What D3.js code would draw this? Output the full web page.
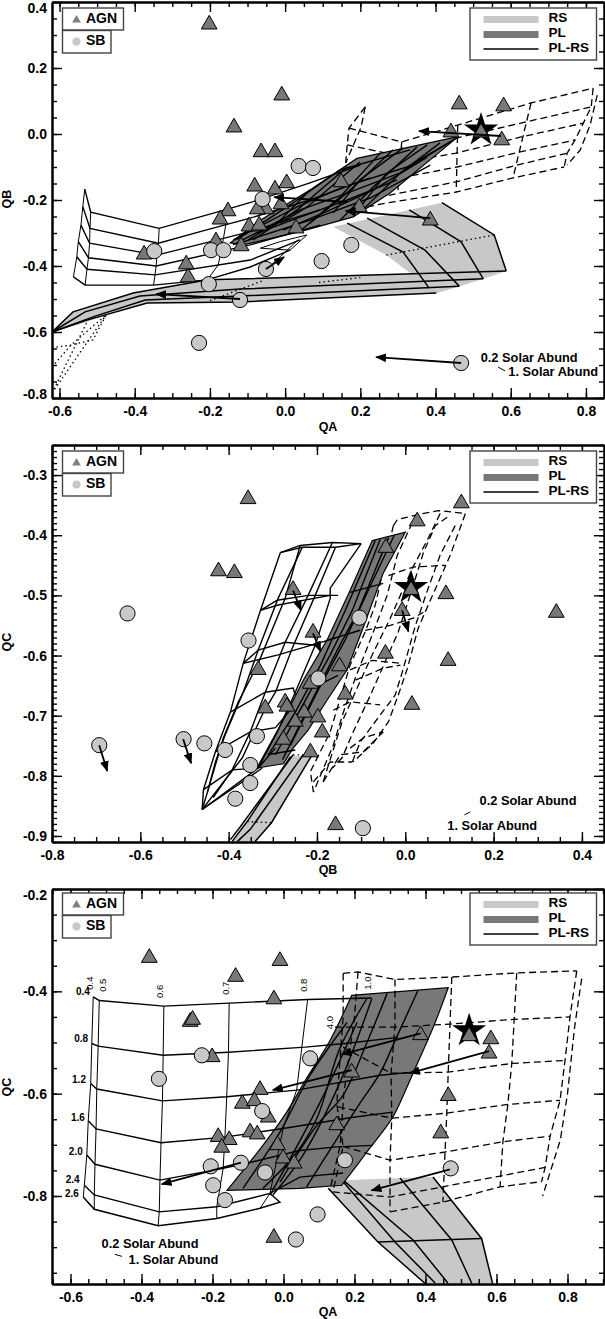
<!DOCTYPE html>
<html><head><meta charset="utf-8">
<script src="https://cdn.jsdelivr.net/npm/d3@7"></script>
<style>html,body{margin:0;padding:0;background:#fff}svg{display:block}text{font-family:"Liberation Sans",Arial,sans-serif;font-weight:bold;fill:#000}</style>
</head><body><div id="c"></div>
<script>
// ---------- panel 1 : QA / QB ----------
const p1Tri=[[-.202,.339],[-.009,.124],[-.136,.027],[-.064,-.048],[-.027,-.048],[.149,-.139],[.463,.097],[.581,.091],[.441,.012],[.576,-.012],[.521,.012],[-.081,-.152],[-.027,-.161],[.004,-.142],[-.152,-.227],[-.173,-.252],[-.011,-.206],[-.051,-.221],[-.074,-.221],[-.096,-.273],[-.069,-.27],[.029,-.279],[.197,-.215],[.386,-.255],[-.184,-.318],[-.117,-.333],[-.375,-.358],[-.263,-.388],[-.258,-.427]];
const p1Cir=[[.036,-.097],[.074,-.103],[-.06,-.197],[-.348,-.355],[-.197,-.352],[-.164,-.352],[-.051,-.409],[-.203,-.455],[-.12,-.503],[.176,-.336],[.097,-.385],[-.229,-.633],[.468,-.694]];
const p1Arrows=[[[.574,-.006],[.356,.009]],[[-.12,-.5],[-.343,-.485]],[[.468,-.694],[.242,-.676]],[[.386,-.255],[.161,-.233]],[[.165,-.206],[-.029,-.191]],[[-.051,-.409],[-.003,-.373]]];
const p1Star=[.521,.012];
const p1RS=[[[.128,-.281],[.417,-.208],[.556,-.306],[.588,-.415],[.527,-.439],[.463,-.461],[.402,-.482],[.269,-.367]],
 [[.588,-.415],[-.205,-.442],[-.404,-.482],[-.564,-.539],[-.62,-.6],[-.527,-.57],[-.476,-.548],[-.367,-.512],[-.122,-.509],[.402,-.482],[.463,-.461]]];
const p1RSLines=[[[.165,-.27],[.314,-.358],[.383,-.467]],[[.218,-.255],[.372,-.352],[.463,-.461]],[[.33,-.23],[.468,-.327],[.527,-.439]],[[.417,-.208],[.556,-.306],[.588,-.415]],
 [[.588,-.415],[-.205,-.442],[-.404,-.482],[-.564,-.539],[-.62,-.6]],[[.527,-.439],[-.12,-.47],[-.386,-.491],[-.532,-.539],[-.62,-.6]],[[.463,-.461],[-.12,-.491],[-.372,-.503],[-.505,-.552],[-.62,-.6]],[[.402,-.482],[-.122,-.509],[-.367,-.512],[-.527,-.564],[-.62,-.6]]];
const p1PL=[[.46,-.008],[.191,-.074],[.066,-.17],[-.066,-.261],[-.146,-.33],[-.112,-.336],[.04,-.296],[.181,-.251],[.279,-.179]];
const p1PLLines=[[[-.138,-.336],[.04,-.23],[.165,-.179],[.306,-.118],[.447,-.018]],[[-.12,-.33],[.066,-.261],[.226,-.194],[.386,-.094]],[[-.13,-.321],[.013,-.215],[.146,-.109],[.332,-.048]],[[.253,-.058],[.146,-.191],[.04,-.294]],[[.314,-.042],[.199,-.139],[.128,-.239]],[[.378,-.033],[.271,-.118],[.181,-.248]],[[.165,-.1],[.032,-.23],[-.085,-.321]],[[.066,-.17],[-.013,-.261],[-.098,-.321]],
 [[-.138,-.321],[.032,-.221],[.154,-.161],[.324,-.1],[.457,-.012]],[[-.074,-.3],[.04,-.252],[.165,-.2],[.298,-.139]],[[-.005,-.291],[.12,-.23],[.234,-.17],[.378,-.07]],[[.199,-.085],[.059,-.221],[-.013,-.27]],[[.287,-.048],[.173,-.17],[.066,-.27]],[[.351,-.039],[.234,-.161],[.146,-.261]],[[.412,-.027],[.306,-.118],[.199,-.239]]];
const p1Rows=[[[-.533,-.167],[-.517,-.237],[-.335,-.286],[-.16,-.23],[-.085,-.205],[.066,-.148],[.2,-.094]],
 [[-.538,-.22],[-.519,-.286],[-.337,-.331],[-.226,-.296],[-.093,-.255],[.066,-.2],[.226,-.133]],
 [[-.543,-.276],[-.52,-.331],[-.341,-.367],[-.093,-.296],[.093,-.23]],
 [[-.55,-.326],[-.523,-.375],[-.343,-.4],[-.093,-.336],[.093,-.276]],
 [[-.554,-.372],[-.527,-.41],[-.346,-.427],[-.093,-.382],[.04,-.321]],
 [[-.563,-.433],[-.532,-.458],[-.35,-.458],[-.208,-.442],[-.093,-.403],[.013,-.352]]];
const p1Cols=[[[-.533,-.167],[-.538,-.22],[-.543,-.276],[-.55,-.326],[-.554,-.372],[-.563,-.433]],[[-.517,-.237],[-.519,-.286],[-.52,-.331],[-.523,-.375],[-.527,-.41],[-.532,-.458]],[[-.335,-.286],[-.337,-.331],[-.341,-.367],[-.343,-.4],[-.346,-.427],[-.35,-.458]],[[-.158,-.276],[-.167,-.336],[-.178,-.397],[-.207,-.442]],
 [[-.066,-.346],[-.013,-.326],[.058,-.306],[.013,-.352],[-.066,-.346]],[[-.05,-.41],[-.013,-.372],[.035,-.32]]];
const p1Dash=[[[.17,.018],[.31,-.024],[.459,.027],[.654,.094],[.819,.139]],[[.165,-.033],[.269,-.058],[.457,-.012],[.638,.036],[.814,.082]],[[.269,-.094],[.455,-.058],[.628,-.009],[.793,.033]],[[.279,-.139],[.457,-.1],[.622,-.055],[.771,-.018]],[[.218,-.2],[.279,-.185],[.455,-.145],[.617,-.094],[.75,-.058]],[[.218,-.221],[.269,-.209],[.455,-.176],[.606,-.133],[.742,-.1]],
 [[.213,.082],[.202,.021],[.161,-.088]],[[.213,.082],[.17,.018],[.165,-.033],[.161,-.088]],[[.31,-.024],[.3,-.17]],[[.459,.027],[.455,-.176]],[[.654,.094],[.606,-.133]],[[.819,.139],[.814,.082],[.793,.033],[.771,-.018],[.75,-.058],[.742,-.1]],[[.83,.118],[.811,.027],[.785,-.048],[.75,-.094]]];
const p1Dot=[[[.269,-.367],[.556,-.306]],[[-.62,-.785],[-.476,-.548]],[[-.62,-.706],[-.569,-.639],[-.476,-.548]],[[-.62,-.648],[-.569,-.639],[-.511,-.624],[-.476,-.548]],[[-.62,-.785],[-.527,-.57]],[[-.2,-.505],[-.06,-.445]],[[.09,-.45],[.2,-.435]]];
const p1Note=[[.649,-.682,"0.2 Solar Abund"],[.713,-.724,"1. Solar Abund"]];
const p1NoteMark=[[.566,-.706],[.585,-.718]];
const p1XTicks=[-.6,-.4,-.2,0,.2,.4,.6,.8], p1YTicks=[-.8,-.6,-.4,-.2,0,.2,.4];

// ---------- panel 2 : QB / QC ----------
const p2Tri=[[-.356,-.336],[.127,-.343],[.027,-.373],[-.423,-.456],[-.387,-.459],[-.044,-.417],[-.254,-.487],[.013,-.487],[.092,-.494],[-.007,-.522],[-.209,-.558],[-.045,-.593],[.097,-.605],[-.333,-.62],[-.149,-.614],[-.215,-.643],[-.136,-.661],[.015,-.678],[-.317,-.684],[-.272,-.674],[-.268,-.681],[-.229,-.691],[-.198,-.699],[-.249,-.706],[-.188,-.724],[-.276,-.736],[-.215,-.757],[-.158,-.878],[.342,-.525]];
const p2Cir=[[-.355,-.575],[-.104,-.537],[-.197,-.638],[-.502,-.739],[-.455,-.746],[-.408,-.757],[-.336,-.734],[-.351,-.782],[-.351,-.812],[-.385,-.838],[-.096,-.887],[-.629,-.53],[-.693,-.749]];
const p2Arrows=[[[-.693,-.749],[-.675,-.792]],[[-.503,-.739],[-.485,-.779]],[[-.254,-.492],[-.236,-.525]],[[-.209,-.563],[-.192,-.593]],[[-.007,-.525],[.007,-.56]]];
const p2Star=[.013,-.487];
const p2RS=[[[-.26,-.768],[-.211,-.765],[-.303,-.878],[-.34,-.909],[-.392,-.909],[-.358,-.876]]];
const p2RSLines=[[[-.254,-.765],[-.374,-.885],[-.396,-.906]],[[-.231,-.765],[-.351,-.889],[-.38,-.909]],[[-.211,-.765],[-.303,-.878],[-.34,-.909]],[[-.26,-.768],[-.358,-.876],[-.392,-.909]]];
const p2PL=[[-.075,-.409],[0,-.395],[-.05,-.463],[-.095,-.553],[-.132,-.624],[-.177,-.674],[-.22,-.724],[-.254,-.754],[-.276,-.78],[-.336,-.787],[-.276,-.707],[-.231,-.641],[-.177,-.574],[-.125,-.492]];
const p2PLLines=[[[-.068,-.409],[-.136,-.525],[-.192,-.616],[-.249,-.694],[-.31,-.765]],[[-.057,-.407],[-.12,-.525],[-.17,-.599],[-.226,-.674],[-.294,-.765]],[[-.038,-.404],[-.106,-.525],[-.154,-.591],[-.211,-.674],[-.278,-.773]],[[-.025,-.4],[-.084,-.492],[-.136,-.574],[-.197,-.657],[-.26,-.749]],[[-.125,-.495],[-.05,-.48]],[[-.174,-.574],[-.102,-.558]],[[-.211,-.654],[-.152,-.633]],[[-.312,-.765],[-.249,-.757]]];
const p2Rows=[[[-.328,-.525],[-.29,-.508],[-.22,-.5],[-.152,-.5]],[[-.328,-.525],[-.288,-.516],[-.17,-.5]],[[-.367,-.613],[-.333,-.591],[-.272,-.578],[-.204,-.583]],[[-.367,-.613],[-.288,-.599],[-.158,-.571]],[[-.396,-.694],[-.317,-.661],[-.254,-.654],[-.249,-.666]],[[-.43,-.76],[-.351,-.727],[-.294,-.72],[-.256,-.687]],[[-.457,-.823],[-.392,-.79],[-.333,-.787],[-.294,-.754]],[[-.46,-.856],[-.355,-.803],[-.324,-.787]]];
const p2Cols=[[[-.283,-.429],[-.328,-.525],[-.367,-.613],[-.396,-.694],[-.43,-.76],[-.457,-.823],[-.46,-.856]],[[-.238,-.417],[-.272,-.505],[-.333,-.613],[-.378,-.677],[-.412,-.737],[-.448,-.827],[-.46,-.856]],[[-.233,-.42],[-.288,-.505],[-.333,-.591],[-.367,-.661],[-.408,-.732],[-.43,-.777],[-.448,-.827]],[[-.165,-.412],[-.22,-.5],[-.272,-.578],[-.317,-.661],[-.351,-.727],[-.392,-.79],[-.435,-.836]],[[-.158,-.42],[-.204,-.5],[-.256,-.588],[-.294,-.661],[-.321,-.694],[-.369,-.77],[-.46,-.856]],[[-.1,-.414],[-.17,-.488],[-.17,-.505],[-.204,-.583],[-.249,-.661],[-.29,-.727],[-.333,-.787],[-.46,-.856]],[[-.283,-.429],[-.238,-.417],[-.165,-.412],[-.1,-.414]],[[-.283,-.429],[-.233,-.42],[-.158,-.42],[-.1,-.414]]];
const p2Dash=[[[.136,-.364],[.102,-.433],[.075,-.478],[.052,-.516],[.029,-.555],[.005,-.621],[-.016,-.666],[-.038,-.71],[-.072,-.745],[-.118,-.777]],[[.113,-.384],[.079,-.433],[.052,-.488],[.023,-.55],[-.007,-.628],[-.023,-.666],[-.057,-.699],[-.102,-.744],[-.12,-.777]],[[.095,-.37],[.068,-.384],[.041,-.429],[.016,-.488],[-.016,-.561],[-.052,-.621],[-.079,-.666],[-.118,-.727],[-.143,-.77],[-.165,-.787]],[[.079,-.364],[.052,-.405],[.016,-.455],[-.034,-.538],[-.075,-.599],[-.109,-.654],[-.143,-.71],[-.186,-.81]],[[.016,-.379],[-.018,-.433],[-.041,-.5],[-.075,-.566],[-.113,-.637],[-.14,-.694],[-.163,-.749],[-.208,-.827]],[[-.027,-.384],[-.068,-.516],[-.091,-.561],[-.125,-.616],[-.17,-.727],[-.215,-.793],[-.208,-.827]],[[-.027,-.384],[-.018,-.374],[.027,-.366],[.075,-.359],[.136,-.364]],
 [[-.038,-.467],[.018,-.453],[.091,-.45]],[[-.091,-.558],[-.034,-.55],[.018,-.538],[.041,-.528]],[[-.125,-.624],[-.075,-.608],[-.011,-.613]],[[-.113,-.641],[-.075,-.629],[-.05,-.621],[-.011,-.616]],[[-.163,-.691],[-.125,-.677],[-.057,-.682]],[[-.125,-.754],[-.095,-.737],[-.05,-.727]],[[-.186,-.81],[-.147,-.765],[-.095,-.76],[-.05,-.727]],[[-.208,-.81],[-.17,-.777],[-.12,-.777]]];
const p2Dot=[[[-.358,-.876],[-.303,-.878]],[[-.254,-.765],[-.211,-.765]]];
const p2Note=[[.278,-.843,"0.2 Solar Abund"],[.197,-.885,"1. Solar Abund"]];
const p2NoteMark=[[.134,-.865],[.147,-.86]];
const p2XTicks=[-.8,-.6,-.4,-.2,0,.2,.4], p2YTicks=[-.9,-.8,-.7,-.6,-.5,-.4,-.3];

// ---------- panel 3 : QA / QC ----------
const p3Tri=[[-.378,-.33],[-.01,-.336],[-.135,-.367],[-.027,-.411],[-.263,-.455],[-.256,-.451],[-.201,-.524],[-.066,-.588],[-.116,-.615],[-.082,-.61],[-.043,-.642],[-.094,-.671],[-.074,-.675],[-.184,-.68],[-.153,-.686],[-.174,-.701],[-.017,-.696],[-.001,-.722],[.03,-.732],[-.027,-.877],[.386,-.481],[.192,-.554],[.584,-.489],[.579,-.517],[.464,-.6],[.443,-.673],[.15,-.657],[.523,-.483]];
const p3Cir=[[-.23,-.525],[.075,-.531],[-.351,-.571],[-.06,-.634],[-.205,-.742],[-.12,-.735],[-.052,-.754],[-.198,-.779],[-.165,-.808],[.096,-.836],[.035,-.885],[.173,-.73],[.471,-.746]];
const p3Arrows=[[[.469,-.748],[.248,-.789]],[[.579,-.517],[.356,-.56]],[[.386,-.482],[.164,-.523]],[[.192,-.554],[-.03,-.593]],[[-.12,-.735],[-.343,-.777]]];
const p3Star=[.523,-.477];
const p3RS=[[[.126,-.785],[.168,-.769],[.421,-.763],[.558,-.883],[.589,-.971],[.399,-.971],[.266,-.89]]];
const p3RSLines=[[[.168,-.772],[.314,-.89],[.427,-.97]],[[.173,-.772],[.365,-.886],[.463,-.97]],[[.328,-.765],[.474,-.886],[.53,-.97]],[[.421,-.763],[.558,-.883],[.589,-.971]],[[.126,-.785],[.266,-.89],[.399,-.971]],[[.266,-.89],[.558,-.883]]];
const p3PLRight=[[.464,-.393],[.422,-.47],[.365,-.56],[.339,-.601],[.306,-.648],[.235,-.714],[.164,-.779]];
const p3PLBottom=[[.164,-.779],[.046,-.785],[-.159,-.789]];
const p3PLLeft=[[-.159,-.789],[-.058,-.701],[.009,-.636],[.065,-.57],[.131,-.496],[.192,-.408]];
const p3PLLines=[[[.379,-.398],[.319,-.489],[.272,-.56],[.215,-.619],[.065,-.782]],[[.292,-.404],[.235,-.5],[.168,-.603],[.094,-.662],[-.01,-.773]],[[.235,-.414],[.159,-.511],[.094,-.648],[.038,-.714],[-.058,-.785]],[[.179,-.461],[.075,-.564],[-.01,-.675],[-.114,-.785]],[[.249,-.414],[.159,-.578],[.055,-.72],[-.03,-.798]],[[.207,-.461],[.103,-.617],[-.038,-.798]]];
const p3Rows=[[[-.536,-.411],[-.519,-.418],[-.337,-.429],[-.153,-.423],[.068,-.416],[.187,-.414],[.248,-.413]],
 [[-.54,-.502],[-.522,-.507],[-.339,-.525],[-.155,-.519],[.061,-.509],[.173,-.502],[.323,-.49]],
 [[-.543,-.58],[-.526,-.591],[-.341,-.614],[-.16,-.606],[.037,-.593],[.272,-.564],[.365,-.558]],
 [[-.55,-.653],[-.528,-.669],[-.345,-.696],[-.165,-.685],[-.001,-.668],[.196,-.646],[.308,-.636]],
 [[-.554,-.72],[-.531,-.738],[-.348,-.769],[-.17,-.746],[-.104,-.736],[.046,-.711],[.15,-.704],[.252,-.701]],
 [[-.561,-.779],[-.533,-.798],[-.35,-.831],[-.188,-.821],[-.038,-.795],[.046,-.763],[.168,-.755]],
 [[-.564,-.802],[-.533,-.826],[-.353,-.858],[-.188,-.844],[-.066,-.824],[-.01,-.812],[-.038,-.795]]];
const p3Cols=[[[-.536,-.411],[-.54,-.502],[-.543,-.58],[-.55,-.653],[-.554,-.72],[-.561,-.779],[-.564,-.802]],[[-.519,-.418],[-.522,-.507],[-.526,-.591],[-.528,-.669],[-.531,-.738],[-.533,-.798],[-.533,-.826]],[[-.337,-.429],[-.339,-.525],[-.341,-.614],[-.345,-.696],[-.348,-.769],[-.35,-.831],[-.353,-.858]],[[-.153,-.423],[-.155,-.519],[-.16,-.606],[-.165,-.685],[-.17,-.746],[-.188,-.821],[-.188,-.844]],[[.068,-.416],[.037,-.593],[-.001,-.668],[-.038,-.795],[-.066,-.824]],[[-.536,-.411],[-.519,-.418]],[[-.564,-.802],[-.533,-.826]]];
const p3Dash=[[[.168,-.365],[.21,-.362],[.314,-.377],[.474,-.372],[.657,-.364],[.826,-.36]],[[.145,-.47],[.314,-.47],[.469,-.464],[.646,-.455],[.807,-.45]],[[.168,-.509],[.303,-.56],[.464,-.558],[.643,-.541],[.793,-.535]],[[.154,-.626],[.305,-.648],[.46,-.638],[.632,-.621],[.779,-.613]],[[.168,-.703],[.3,-.73],[.455,-.714],[.618,-.694],[.751,-.683]],[[.139,-.792],[.3,-.802],[.449,-.782],[.61,-.761],[.737,-.744]],[[.3,-.831],[.449,-.812],[.61,-.782],[.727,-.772]],
 [[.168,-.365],[.168,-.45],[.15,-.62],[.168,-.703],[.139,-.792]],[[.21,-.362],[.2,-.45],[.17,-.6],[.16,-.7],[.13,-.79]],[[.314,-.377],[.314,-.47],[.303,-.56],[.305,-.648],[.3,-.73],[.3,-.831]],[[.474,-.372],[.464,-.558],[.46,-.638],[.455,-.714],[.449,-.812]],[[.657,-.364],[.643,-.541],[.632,-.621],[.618,-.694],[.61,-.782]],[[.826,-.36],[.807,-.45],[.793,-.535],[.779,-.613],[.751,-.683],[.737,-.744],[.727,-.772]],[[.84,-.375],[.82,-.47],[.8,-.6],[.78,-.69],[.73,-.8]]];
const p3Note=[[-.376,-.895,"0.2 Solar Abund"],[-.31,-.927,"1. Solar Abund"]];
const p3NoteMark=[[-.475,-.914],[-.455,-.918]];
const p3LeftLabels=[[-.565,-.402,"0.4"],[-.57,-.493,"0.8"],[-.576,-.574,"1.2"],[-.579,-.648,"1.6"],[-.585,-.714,"2.0"],[-.594,-.77,"2.4"],[-.596,-.796,"2.6"]];
const p3TopLabels=[[-.545,-.384,"0.4"],[-.508,-.388,"0.5"],[-.346,-.4,"0.6"],[-.16,-.394,"0.7"],[.059,-.388,"0.8"],[.238,-.384,"1.0"],[.131,-.461,"4.0"]];
const p3XTicks=[-.6,-.4,-.2,0,.2,.4,.6,.8], p3YTicks=[-.8,-.6,-.4,-.2];

const legendLabels=["RS","PL","PL-RS"], markerLabels=["AGN","SB"];
const GR_L="#c8c8c8", GR_D="#787878";

const svg=d3.select("#c").append("svg").attr("width",605).attr("height",1319);
const defs=svg.append("defs");
defs.append("marker").attr("id","ah").attr("viewBox","0 0 10 8").attr("refX",9).attr("refY",4).attr("markerUnits","userSpaceOnUse").attr("markerWidth",11).attr("markerHeight",9).attr("orient","auto")
 .append("path").attr("d","M0,0L10,4L0,8Z").attr("fill","#000");

function minors(dom,step){const a=[];const n=Math.round((dom[1]-dom[0])/step);const s=Math.ceil(dom[0]/step-1e-6);for(let i=s;i<=s+n;i++){a.push(+(i*step).toFixed(4));}return a.filter(v=>v>=dom[0]-1e-6&&v<=dom[1]+1e-6);}

function panel(o){
 const x=d3.scaleLinear().domain(o.xd).range([52,604]);
 const y=d3.scaleLinear().domain(o.yd).range([o.bottom,o.top]);
 const g=svg.append("g");
 const line=d3.line().x(d=>x(d[0])).y(d=>y(d[1]));
 const smooth=d3.line().x(d=>x(d[0])).y(d=>y(d[1])).curve(d3.curveCatmullRom);
 const id="clip"+o.id;
 defs.append("clipPath").attr("id",id).append("rect").attr("x",52).attr("y",o.top).attr("width",552).attr("height",o.bottom-o.top);
 const m=g.append("g").attr("clip-path",`url(#${id})`);
 const drawDash=()=>m.append("g").selectAll("path").data(o.dash).join("path").attr("d",line).attr("fill","none").attr("stroke","#000").attr("stroke-width",1.3).attr("stroke-dasharray","7 4");
 m.append("g").selectAll("path").data(o.rs).join("path").attr("d",d=>line(d)+"Z").attr("fill",GR_L);
 m.append("g").selectAll("path").data(o.rsl).join("path").attr("d",line).attr("fill","none").attr("stroke","#000").attr("stroke-width",1.5);
 m.append("g").selectAll("path").data(o.dot||[]).join("path").attr("d",line).attr("fill","none").attr("stroke","#000").attr("stroke-width",1.3).attr("stroke-dasharray","1.5 3");
 if(!o.dashOver)drawDash();
 // PL sheet: either a plain closed outline, or smooth edges joined into one shape
 const plD=o.plEdges
   ? smooth(o.plEdges[0])+line(o.plEdges[1]).replace(/^M/,"L")+smooth(o.plEdges[2]).replace(/^M/,"L")+"Z"
   : line(o.pl)+"Z";
 m.append("path").attr("d",plD).attr("fill",GR_D).attr("stroke","#000").attr("stroke-width",1.2);
 if(o.dashOver)drawDash();
 m.append("g").selectAll("path").data(o.pll).join("path").attr("d",o.smoothPL?smooth:line).attr("fill","none").attr("stroke","#000").attr("stroke-width",1.4);
 m.append("g").selectAll("path").data(o.rows).join("path").attr("d",line).attr("fill","none").attr("stroke","#000").attr("stroke-width",1.4);
 m.append("g").selectAll("path").data(o.cols).join("path").attr("d",line).attr("fill","none").attr("stroke","#000").attr("stroke-width",o.colW||1);
 // star
 m.append("path").attr("d",d3.symbol(d3.symbolStar,364)()).attr("transform",`translate(${x(o.star[0])},${y(o.star[1])})`).attr("fill","#000");
 // markers
 m.append("g").selectAll("path").data(o.tri).join("path").attr("d",d3.symbol(d3.symbolTriangle,108)()).attr("transform",d=>`translate(${x(d[0])},${y(d[1])+2.3})`).attr("fill",GR_D).attr("stroke","#000").attr("stroke-width",1);
 m.append("g").selectAll("circle").data(o.cir).join("circle").attr("cx",d=>x(d[0])).attr("cy",d=>y(d[1])).attr("r",7.6).attr("fill",GR_L).attr("stroke","#000").attr("stroke-width",1);
 m.append("g").selectAll("path").data(o.arrows).join("path").attr("d",line).attr("fill","none").attr("stroke","#000").attr("stroke-width",1.8).attr("marker-end","url(#ah)");
 // notes
 g.append("g").selectAll("text").data(o.note).join("text").attr("x",d=>x(d[0])).attr("y",d=>y(d[1])).attr("text-anchor","middle").attr("dominant-baseline","middle").attr("font-size",12.8).text(d=>d[2]);
 g.append("path").attr("d",line(o.noteMark)).attr("stroke","#000").attr("stroke-width",1).attr("fill","none");
 (o.leftLabels||[]).forEach(d=>g.append("text").attr("x",x(d[0])).attr("y",y(d[1])).attr("text-anchor","middle").attr("dominant-baseline","middle").attr("font-size",10).text(d[2]));
 (o.topLabels||[]).forEach(d=>g.append("text").attr("transform",`translate(${x(d[0])},${y(d[1])}) rotate(-90)`).attr("text-anchor","middle").attr("dominant-baseline","middle").attr("font-size",9.5).style("font-weight","normal").text(d[2]));
 // axes
 const xmin=minors(o.xd,o.xm), ymin=minors(o.yd,o.ym);
 const ax=(gen,scale,vals,len,tr,fmt)=>{
  const a=g.append("g").attr("transform",tr).call(gen(scale).tickValues(vals).tickSizeInner(-len).tickSizeOuter(0).tickPadding(len>0?5+len:0).tickFormat(fmt||""));
  a.selectAll("path.domain").attr("stroke","#000").attr("stroke-width",2);
  a.selectAll("line").attr("stroke","#000").attr("stroke-width",1.4);
  return a;};
 const fmtY=d=>d3.format(".1f")(d).replace("−","-");
 ax(d3.axisBottom,x,xmin,5,`translate(0,${o.bottom})`);
 ax(d3.axisTop,x,xmin,5,`translate(0,${o.top})`);
 ax(d3.axisLeft,y,ymin,5,`translate(52,0)`);
 ax(d3.axisRight,y,ymin,5,`translate(604,0)`);
 const bx=ax(d3.axisBottom,x,o.xt,10,`translate(0,${o.bottom})`,fmtY);
 bx.selectAll("text").attr("y",8).attr("dy",".71em").attr("font-size",14).attr("font-family",null).attr("fill","#000");
 ax(d3.axisTop,x,o.xt,10,`translate(0,${o.top})`);
 const by=ax(d3.axisLeft,y,o.yt,10,`translate(52,0)`,fmtY);
 by.selectAll("text").attr("x",-5).attr("font-size",14).attr("font-family",null).attr("fill","#000");
 by.selectAll("g.tick").each(function(d){const t=d3.select(this).select("text"),py=y(d);
   if(py<o.top+4)t.attr("y",6); if(py>o.bottom-4)t.attr("y",-4);});
 ax(d3.axisRight,y,o.yt,10,`translate(604,0)`);
 // titles
 g.append("text").attr("x",328).attr("y",o.xTitleY).attr("text-anchor","middle").attr("dominant-baseline","middle").attr("font-size",12.5).text(o.xTitle);
 g.append("text").attr("transform",`translate(8,${o.yTitleY}) rotate(-90)`).attr("text-anchor","middle").attr("dominant-baseline","middle").attr("font-size",12.5).text(o.yTitle);
 // legends
 const L=o.leg;
 const box=(x0,y0,w,h)=>g.append("rect").attr("x",x0).attr("y",y0).attr("width",w).attr("height",h).attr("fill","#fff").attr("stroke","#444").attr("stroke-width",1.4);
 box(62.5,L,61,22);box(62.5,L+22.5,48.5,22.5);
 g.append("path").attr("d",d3.symbol(d3.symbolTriangle,34)()).attr("transform",`translate(76.5,${L+12})`).attr("fill","#808080");
 g.append("circle").attr("cx",76.5).attr("cy",L+33.5).attr("r",4).attr("fill",GR_L);
 markerLabels.forEach((t,i)=>g.append("text").attr("x",86).attr("y",L+11+i*22.5).attr("dominant-baseline","middle").attr("font-size",14).text(t));
 box(470,L,126.5,52);
 g.append("rect").attr("x",483.5).attr("y",L+8).attr("width",55).attr("height",7).attr("fill",GR_L);
 g.append("rect").attr("x",483.5).attr("y",L+23).attr("width",55).attr("height",7).attr("fill",GR_D);
 g.append("line").attr("x1",483.5).attr("x2",538.5).attr("y1",L+41).attr("y2",L+41).attr("stroke","#000").attr("stroke-width",1.5);
 legendLabels.forEach((t,i)=>g.append("text").attr("x",548.5).attr("y",L+10+i*15).attr("dominant-baseline","middle").attr("font-size",13.5).text(t));
}

panel({id:1,xd:[-.62,.848],yd:[-.8,.4],top:2,bottom:398,xm:.05,ym:.05,xt:p1XTicks,yt:p1YTicks,rs:p1RS,rsl:p1RSLines,pl:p1PL,pll:p1PLLines,rows:p1Rows,cols:p1Cols,dash:p1Dash,dot:p1Dot,tri:p1Tri,cir:p1Cir,arrows:p1Arrows,star:p1Star,note:p1Note,noteMark:p1NoteMark,xTitle:"QA",yTitle:"QB",xTitleY:428,yTitleY:199,leg:8});
panel({id:2,xd:[-.8,.45],yd:[-.91,-.25],top:445,bottom:842,xm:.05,ym:.01,xt:p2XTicks,yt:p2YTicks,rs:p2RS,rsl:p2RSLines,pl:p2PL,pll:p2PLLines,rows:p2Rows,cols:p2Cols,colW:1.4,dash:p2Dash,dot:p2Dot,tri:p2Tri,cir:p2Cir,arrows:p2Arrows,star:p2Star,note:p2Note,noteMark:p2NoteMark,xTitle:"QB",yTitle:"QC",xTitleY:871,yTitleY:642,leg:451});
panel({id:3,xd:[-.6521,.9028],yd:[-.972,-.2],top:889,bottom:1284,xm:.05,ym:.05,xt:p3XTicks,yt:p3YTicks,rs:p3RS,rsl:p3RSLines,plEdges:[p3PLRight,p3PLBottom,p3PLLeft],pll:p3PLLines,smoothPL:true,dashOver:true,rows:p3Rows,cols:p3Cols,dash:p3Dash,tri:p3Tri,cir:p3Cir,arrows:p3Arrows,star:p3Star,note:p3Note,noteMark:p3NoteMark,leftLabels:p3LeftLabels,topLabels:p3TopLabels,xTitle:"QA",yTitle:"QC",xTitleY:1313,yTitleY:1087,leg:893});
</script></body></html>
